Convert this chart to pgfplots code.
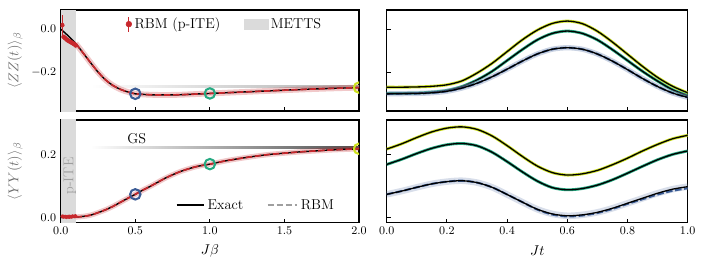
\documentclass[border=0pt]{standalone}
\usepackage{pgfplots}
\usepackage{pgfplotstable}
\pgfplotsset{compat=1.18}
\definecolor{cY}{RGB}{205,225,30}
\definecolor{cG}{RGB}{38,170,130}
\definecolor{cB}{RGB}{59,92,149}
\definecolor{cR}{RGB}{200,40,45}
\definecolor{lab}{RGB}{110,110,110}

\pgfplotstableread{
b zz
0.00 0.000
0.05 -0.031
0.10 -0.066
0.15 -0.110
0.20 -0.155
0.25 -0.198
0.30 -0.234
0.35 -0.260
0.40 -0.278
0.45 -0.290
0.50 -0.2986
0.60 -0.303
0.70 -0.304
0.80 -0.303
0.90 -0.300
1.00 -0.297
1.20 -0.291
1.40 -0.285
1.60 -0.279
1.80 -0.274
2.00 -0.270
}\zzbeta

\pgfplotstableread{
b zz
0.10 -0.066
0.15 -0.110
0.20 -0.155
0.25 -0.198
0.30 -0.234
0.35 -0.260
0.40 -0.278
0.45 -0.290
0.50 -0.2986
0.60 -0.303
0.70 -0.304
0.80 -0.303
0.90 -0.300
1.00 -0.297
1.20 -0.291
1.40 -0.285
1.60 -0.279
1.80 -0.274
2.00 -0.270
}\zzbetarbm

\pgfplotstableread{
b yy
0.00 0.000
0.05 0.000
0.10 0.001
0.15 0.003
0.20 0.007
0.25 0.015
0.30 0.024
0.35 0.035
0.40 0.048
0.45 0.061
0.50 0.0735
0.55 0.087
0.60 0.099
0.65 0.112
0.70 0.125
0.75 0.136
0.80 0.146
0.85 0.154
0.90 0.161
0.95 0.166
1.00 0.170
1.10 0.180
1.20 0.188
1.30 0.195
1.40 0.201
1.50 0.205
1.60 0.209
1.70 0.212
1.80 0.215
1.90 0.217
2.00 0.219
}\yybeta

\pgfplotstableread{
b yy
0.10 0.001
0.15 0.003
0.20 0.007
0.25 0.015
0.30 0.024
0.35 0.035
0.40 0.048
0.45 0.061
0.50 0.0735
0.55 0.087
0.60 0.099
0.65 0.112
0.70 0.125
0.75 0.136
0.80 0.146
0.85 0.154
0.90 0.161
0.95 0.166
1.00 0.170
1.10 0.180
1.20 0.188
1.30 0.195
1.40 0.201
1.50 0.205
1.60 0.209
1.70 0.212
1.80 0.215
1.90 0.217
2.00 0.219
}\yybetarbm

\pgfplotstableread{
t y g b
0.00 -0.268 -0.297 -0.299
0.05 -0.268 -0.296 -0.298
0.10 -0.267 -0.295 -0.297
0.15 -0.264 -0.291 -0.294
0.20 -0.257 -0.283 -0.287
0.25 -0.239 -0.265 -0.272
0.30 -0.203 -0.235 -0.250
0.35 -0.158 -0.195 -0.220
0.40 -0.104 -0.145 -0.185
0.45 -0.050 -0.095 -0.148
0.50 -0.005 -0.050 -0.115
0.55 0.026 -0.020 -0.093
0.60 0.037 -0.009 -0.086
0.65 0.025 -0.020 -0.093
0.70 -0.010 -0.050 -0.115
0.75 -0.060 -0.095 -0.148
0.80 -0.116 -0.145 -0.187
0.85 -0.172 -0.195 -0.228
0.90 -0.223 -0.240 -0.265
0.95 -0.264 -0.280 -0.295
1.00 -0.294 -0.307 -0.315
}\zzt

\pgfplotstableread{
t y g b brbm
0.00 0.218 0.169 0.0735 0.0735
0.05 0.235 0.1855 0.084 0.084
0.10 0.255 0.204 0.096 0.096
0.15 0.273 0.2205 0.107 0.107
0.20 0.285 0.232 0.114 0.114
0.25 0.289 0.236 0.117 0.117
0.30 0.281 0.2286 0.111 0.111
0.35 0.260 0.208 0.096 0.096
0.40 0.229 0.178 0.073 0.073
0.45 0.195 0.1456 0.049 0.049
0.50 0.164 0.116 0.026 0.025
0.55 0.143 0.095 0.011 0.009
0.60 0.135 0.088 0.005 0.003
0.65 0.139 0.092 0.008 0.006
0.70 0.150 0.103 0.016 0.014
0.75 0.168 0.120 0.029 0.027
0.80 0.189 0.141 0.045 0.043
0.85 0.212 0.163 0.061 0.058
0.90 0.233 0.184 0.077 0.073
0.95 0.251 0.201 0.090 0.085
1.00 0.262 0.212 0.098 0.093
}\yyt

\newcommand{\lfont}{\fontsize{11}{13}\selectfont}

\pgfplotsset{
  base/.style={
    scale only axis,
    axis line style={line width=0.9pt},
    tick align=inside, tick pos=left,
    major tick length=3.2pt,
    tick style={line width=0.7pt, black},
    clip marker paths=true,
    tick label style={font=\small},
    xticklabel style={/pgf/number format/.cd, fixed, fixed zerofill, precision=1},
    yticklabel style={/pgf/number format/.cd, fixed, fixed zerofill, precision=1},
    every axis y label/.style={at={(axis description cs:0,0.5)}, xshift=-35pt, rotate=90, anchor=center, font=\lfont, text=lab},
    every axis x label/.style={at={(axis description cs:0.5,0)}, yshift=-21.8pt, anchor=center, font=\lfont},
  },
  leftax/.style={base, width=229.5pt, xmin=0, xmax=2, xtick={0,0.5,1,1.5,2}},
  rightax/.style={base, width=231.5pt, xmin=0, xmax=1, xtick={0,0.2,0.4,0.6,0.8,1}, yticklabels={}},
  topax/.style={height=77.7pt, ymin=-0.378, ymax=0.088, ytick={-0.2,0}},
  botax/.style={height=79pt, ymin=-0.017, ymax=0.311, ytick={0,0.2}},
}

\begin{document}
\begin{tikzpicture}
\path[use as bounding box] (-46.7pt,-34.1pt) rectangle (496.4pt,171.3pt);

% ---------- top left ----------
\begin{axis}[leftax, topax, at={(0pt,85.9pt)}, anchor=south west, xticklabels={},
  ylabel={$\langle ZZ(t)\rangle_\beta$},
  legend columns=2,
  legend style={draw=none, fill=none, at={(axis description cs:0.55,0.86)}, anchor=center, font=\lfont,
    /tikz/every even column/.append style={column sep=16pt}},
  legend cell align=left]
\addplot[draw=none, fill=gray!28, forget plot] coordinates {(0,-1) (0.1,-1) (0.1,1) (0,1)} -- cycle;
\addplot[draw=none, left color=white, right color=black!32, forget plot] coordinates {(0.2,-0.2675) (2,-0.2675) (2,-0.2585) (0.2,-0.2585)} -- cycle;
\addplot[cR, opacity=0.25, line width=4.5pt, smooth, forget plot] table[x=b, y=zz] {\zzbetarbm};
\addplot[black, line width=1.1pt, smooth, forget plot] table[x=b, y=zz] {\zzbeta};
\addplot[cR, line width=1.3pt, dash pattern=on 5pt off 2pt, smooth, forget plot] table[x=b, y=zz] {\zzbetarbm};
\addplot[cR, only marks, mark=*, mark size=1.6pt, forget plot,
  error bars/.cd, y dir=both, y explicit, error bar style={line width=0.9pt, cR}, error mark=none]
  coordinates {
  (0.010,0.018) +- (0,0.045)
  (0.020,-0.036) +- (0,0.008)
  (0.030,-0.042) +- (0,0.008)
  (0.040,-0.048) +- (0,0.007)
  (0.050,-0.053) +- (0,0.007)
  (0.060,-0.057) +- (0,0.007)
  (0.070,-0.061) +- (0,0.007)
  (0.080,-0.065) +- (0,0.007)
  (0.090,-0.069) +- (0,0.008)
  (0.100,-0.075) +- (0,0.010)
  };
\addplot[cB, only marks, mark=o, mark size=4pt, line width=1.6pt, forget plot] coordinates {(0.5,-0.2986)};
\addplot[cG, only marks, mark=o, mark size=4pt, line width=1.6pt, forget plot] coordinates {(1.0,-0.297)};
\addplot[cY, only marks, mark=o, mark size=4pt, line width=1.6pt, forget plot] coordinates {(2.0,-0.270)};
\addlegendimage{legend image code/.code={\draw[cR, line width=0.9pt] (0.3cm,-0.2cm) -- (0.3cm,0.2cm); \fill[cR] (0.3cm,0cm) circle (2.2pt);}}
\addlegendentry{RBM (p-ITE)}
\addlegendimage{legend image code/.code={\fill[gray!28] (0cm,-0.13cm) rectangle (0.65cm,0.13cm);}}
\addlegendentry{METTS}
\end{axis}

% ---------- bottom left ----------
\begin{axis}[leftax, botax, at={(0pt,0pt)}, anchor=south west,
  ylabel={$\langle YY(t)\rangle_\beta$}, xlabel={$J\beta$},
  legend columns=2,
  legend style={draw=none, fill=none, at={(axis description cs:0.655,0.17)}, anchor=center, font=\lfont,
    /tikz/every even column/.append style={column sep=16pt}},
  legend cell align=left]
\addplot[draw=none, fill=gray!28, forget plot] coordinates {(0,-1) (0.1,-1) (0.1,1) (0,1)} -- cycle;
\addplot[draw=none, left color=white, right color=black!70, forget plot] coordinates {(0.2,0.2196) (2,0.2196) (2,0.2276) (0.2,0.2276)} -- cycle;
\addplot[cR, opacity=0.25, line width=4pt, smooth, forget plot] table[x=b, y=yy] {\yybetarbm};
\addplot[black, line width=1.1pt, smooth, forget plot] table[x=b, y=yy] {\yybeta};
\addplot[cR, line width=1.3pt, dash pattern=on 5pt off 2pt, smooth, forget plot] table[x=b, y=yy] {\yybetarbm};
\addplot[cR, only marks, mark=*, mark size=1.4pt, forget plot,
  error bars/.cd, y dir=both, y explicit, error bar style={line width=0.9pt, cR}, error mark=none]
  coordinates {
  (0.010,0.003) +- (0,0.004)
  (0.020,0.002) +- (0,0.003)
  (0.030,0.002) +- (0,0.003)
  (0.040,0.001) +- (0,0.003)
  (0.050,0.002) +- (0,0.003)
  (0.060,0.002) +- (0,0.003)
  (0.070,0.002) +- (0,0.003)
  (0.080,0.003) +- (0,0.003)
  (0.090,0.003) +- (0,0.003)
  (0.100,0.004) +- (0,0.003)
  };
\addplot[cB, only marks, mark=o, mark size=4pt, line width=1.6pt, forget plot] coordinates {(0.5,0.0735)};
\addplot[cG, only marks, mark=o, mark size=4pt, line width=1.6pt, forget plot] coordinates {(1.0,0.170)};
\addplot[cY, only marks, mark=o, mark size=4pt, line width=1.6pt, forget plot] coordinates {(2.0,0.219)};
\node[text=gray!75, rotate=90, font=\lfont] at (axis cs:0.062,0.132) {p-ITE};
\node[font=\lfont] at (axis cs:0.51,0.252) {GS};
\addlegendimage{legend image code/.code={\draw[black, line width=1.2pt] (0cm,0cm) -- (0.75cm,0cm);}}
\addlegendentry{Exact}
\addlegendimage{legend image code/.code={\draw[gray!75, line width=1.5pt, dash pattern=on 5pt off 2pt] (0cm,0cm) -- (0.8cm,0cm);}}
\addlegendentry{RBM}
\end{axis}

% ---------- top right ----------
\begin{axis}[rightax, topax, at={(250.8pt,85.9pt)}, anchor=south west, xticklabels={}]
\addplot[cY, line width=2.2pt, smooth] table[x=t, y=y] {\zzt};
\addplot[black, line width=1.0pt, smooth] table[x=t, y=y] {\zzt};
\addplot[cG, line width=2.2pt, smooth] table[x=t, y=g] {\zzt};
\addplot[black, line width=1.0pt, smooth] table[x=t, y=g] {\zzt};
\addplot[cB!60, opacity=0.45, line width=4pt, smooth] table[x=t, y=b] {\zzt};
\addplot[cB, line width=1.6pt, dash pattern=on 5pt off 2pt, smooth] table[x=t, y=b] {\zzt};
\addplot[black, line width=1.0pt, smooth] table[x=t, y=b] {\zzt};
\end{axis}

% ---------- bottom right ----------
\begin{axis}[rightax, botax, at={(250.8pt,0pt)}, anchor=south west, xlabel={$Jt$}]
\addplot[cY, line width=2.2pt, smooth] table[x=t, y=y] {\yyt};
\addplot[black, line width=1.0pt, smooth] table[x=t, y=y] {\yyt};
\addplot[cG, line width=2.2pt, smooth] table[x=t, y=g] {\yyt};
\addplot[black, line width=1.0pt, smooth] table[x=t, y=g] {\yyt};
\addplot[cB!50, opacity=0.4, line width=5pt, smooth] table[x=t, y=b] {\yyt};
\addplot[cB, line width=1.6pt, dash pattern=on 5pt off 2pt, smooth] table[x=t, y=brbm] {\yyt};
\addplot[black, line width=1.0pt, smooth] table[x=t, y=b] {\yyt};
\end{axis}
\end{tikzpicture}
\end{document}
